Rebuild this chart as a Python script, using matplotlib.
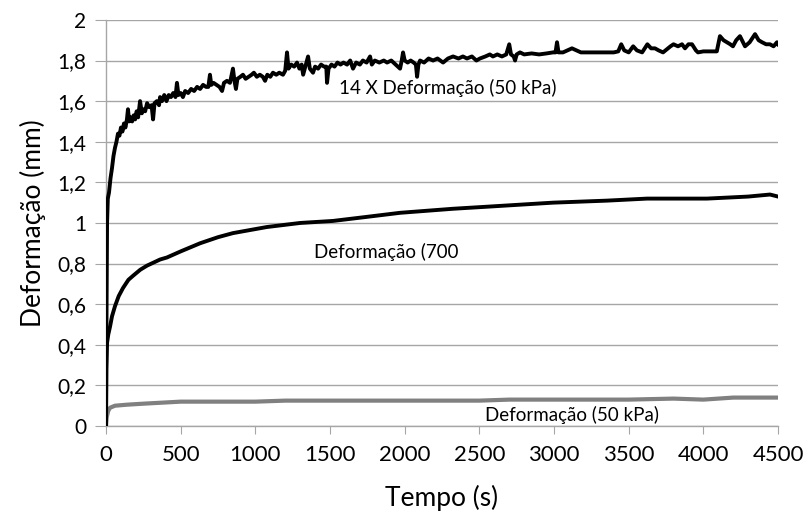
import matplotlib
matplotlib.use("Agg")
import matplotlib.pyplot as plt
from matplotlib.ticker import FuncFormatter

plt.rcParams['font.family'] = ['Lato', 'DejaVu Sans']

# 14 X Deformação (50 kPa) - curva superior, com ruído
t_14x = [0, 3, 7, 12, 20, 30, 40, 50, 60, 70, 80, 90, 100, 110, 120, 130, 140, 147, 155,
         165, 175, 185, 195, 205, 215, 228, 240, 250, 262, 275, 290, 305, 315, 325, 340,
         355, 362, 375, 390, 405, 420, 435, 450, 465, 475, 485, 500, 515, 530, 550, 570,
         590, 610, 630, 650, 670, 685, 696, 705, 720, 740, 760, 777, 790, 810, 830, 850,
         860, 870, 880, 900, 917, 935, 955, 975, 990, 1010, 1030, 1050, 1065, 1080, 1100,
         1118, 1140, 1160, 1185, 1200, 1212, 1222, 1240, 1260, 1279, 1295, 1310, 1320,
         1335, 1353, 1365, 1386, 1400, 1420, 1440, 1460, 1475, 1480, 1490, 1510, 1530,
         1550, 1570, 1590, 1614, 1635, 1654, 1675, 1700, 1720, 1745, 1768, 1780, 1800,
         1830, 1860, 1882, 1910, 1940, 1969, 1980, 1989, 2000, 2020, 2040, 2060, 2075,
         2083, 2092, 2103, 2130, 2160, 2190, 2220, 2257, 2290, 2324, 2360, 2390, 2417,
         2450, 2480, 2504, 2540, 2570, 2591, 2620, 2651, 2680, 2700, 2712, 2730, 2739,
         2750, 2772, 2800, 2850, 2900, 2950, 2993, 3010, 3020, 3030, 3060, 3120, 3180,
         3250, 3300, 3350, 3400, 3430, 3450, 3470, 3500, 3530, 3555, 3590, 3625, 3650,
         3676, 3700, 3730, 3780, 3800, 3830, 3857, 3877, 3900, 3924, 3950, 3964, 4000,
         4050, 4090, 4111, 4135, 4158, 4180, 4198, 4220, 4245, 4265, 4279, 4310, 4346,
         4370, 4393, 4420, 4446, 4470, 4493, 4500]
d_14x = [0.0, 0.5, 1.0, 1.12, 1.15, 1.22, 1.27, 1.33, 1.37, 1.40, 1.44, 1.43, 1.47, 1.45,
         1.49, 1.47, 1.51, 1.56, 1.50, 1.52, 1.50, 1.53, 1.51, 1.55, 1.52, 1.60, 1.54,
         1.56, 1.55, 1.59, 1.57, 1.58, 1.51, 1.59, 1.60, 1.58, 1.62, 1.60, 1.63, 1.60,
         1.63, 1.62, 1.64, 1.62, 1.69, 1.63, 1.64, 1.62, 1.65, 1.64, 1.66, 1.65, 1.67,
         1.66, 1.68, 1.67, 1.67, 1.73, 1.68, 1.69, 1.68, 1.67, 1.65, 1.69, 1.70, 1.69,
         1.76, 1.70, 1.66, 1.71, 1.72, 1.73, 1.71, 1.72, 1.73, 1.74, 1.72, 1.73, 1.72,
         1.70, 1.73, 1.72, 1.74, 1.73, 1.74, 1.73, 1.75, 1.84, 1.76, 1.78, 1.77, 1.79,
         1.76, 1.78, 1.73, 1.77, 1.82, 1.76, 1.74, 1.77, 1.76, 1.78, 1.77, 1.77, 1.69,
         1.76, 1.78, 1.77, 1.79, 1.78, 1.79, 1.78, 1.80, 1.76, 1.79, 1.78, 1.80, 1.79,
         1.82, 1.78, 1.80, 1.79, 1.80, 1.79, 1.80, 1.78, 1.76, 1.80, 1.84, 1.80, 1.79,
         1.80, 1.79, 1.78, 1.72, 1.78, 1.80, 1.79, 1.81, 1.80, 1.81, 1.79, 1.81, 1.82,
         1.81, 1.82, 1.81, 1.82, 1.80, 1.81, 1.82, 1.83, 1.82, 1.83, 1.82, 1.83, 1.88,
         1.83, 1.82, 1.80, 1.83, 1.84, 1.83, 1.835, 1.83, 1.835, 1.84, 1.84, 1.89, 1.84,
         1.84, 1.86, 1.84, 1.84, 1.84, 1.84, 1.84, 1.845, 1.88, 1.85, 1.84, 1.87, 1.85,
         1.84, 1.88, 1.86, 1.86, 1.85, 1.84, 1.87, 1.88, 1.87, 1.88, 1.86, 1.88, 1.88,
         1.85, 1.84, 1.845, 1.845, 1.845, 1.92, 1.90, 1.89, 1.88, 1.87, 1.90, 1.92, 1.89,
         1.87, 1.89, 1.93, 1.90, 1.89, 1.88, 1.88, 1.87, 1.89, 1.88]

# Deformação (700 kPa)
t_700 = [0, 2, 7, 15, 27, 40, 60, 85, 114, 150, 181, 230, 275, 362, 408, 500, 630, 750,
         850, 1077, 1300, 1520, 1746, 1969, 2325, 2550, 2993, 3355, 3623, 4024, 4300,
         4446, 4500]
d_700 = [0.0, 0.28, 0.41, 0.45, 0.49, 0.54, 0.59, 0.64, 0.68, 0.72, 0.74, 0.77, 0.79,
         0.82, 0.83, 0.86, 0.90, 0.93, 0.95, 0.98, 1.0, 1.01, 1.03, 1.05, 1.07, 1.08,
         1.10, 1.11, 1.12, 1.12, 1.13, 1.14, 1.13]

# Deformação (50 kPa)
t_50 = [0, 5, 15, 27, 60, 140, 250, 500, 1000, 1200, 1500, 2000, 2500, 2700, 3000,
        3500, 3800, 4000, 4200, 4500]
d_50 = [0.0, 0.045, 0.075, 0.09, 0.10, 0.105, 0.11, 0.12, 0.12, 0.125, 0.125, 0.125,
        0.125, 0.13, 0.13, 0.13, 0.135, 0.13, 0.14, 0.14]

x_ticks = [0, 500, 1000, 1500, 2000, 2500, 3000, 3500, 4000, 4500]
y_ticks = [0, 0.2, 0.4, 0.6, 0.8, 1.0, 1.2, 1.4, 1.6, 1.8, 2.0]

fig = plt.figure(figsize=(8.05, 5.24), dpi=100)
ax = fig.add_axes([0.1317, 0.187, 0.8348, 0.775])

ax.plot(t_50, d_50, color="#808080", linewidth=3, solid_joinstyle="round", zorder=3)
ax.plot(t_700, d_700, color="black", linewidth=2.8, solid_joinstyle="round", zorder=4)
ax.plot(t_14x, d_14x, color="black", linewidth=2.8, solid_joinstyle="round", zorder=5)

ax.set_xlim(0, 4500)
ax.set_ylim(0, 2)
ax.set_xticks(x_ticks)
ax.set_yticks(y_ticks)
ax.yaxis.set_major_formatter(FuncFormatter(lambda v, p: ("%g" % round(v, 1)).replace(".", ",")))

ax.grid(axis="y", color="#a6a6a6", linewidth=1)
ax.set_axisbelow(True)
for s in ["top", "right"]:
    ax.spines[s].set_visible(False)
for s in ["left", "bottom"]:
    ax.spines[s].set_color("#a6a6a6")
    ax.spines[s].set_linewidth(1)
ax.tick_params(axis="y", length=8, color="#a6a6a6", labelsize=15, pad=6)
ax.tick_params(axis="x", length=6, color="#a6a6a6", labelsize=16, pad=8)

ax.set_xlabel("Tempo (s)", fontsize=19, labelpad=14)
ax.set_ylabel("Deformação (mm)", fontsize=19, labelpad=8)

ax.text(2290, 1.665, "14 X Deformação (50 kPa)", fontsize=13.5, ha="center", va="center")
ax.text(1875, 0.857, "Deformação (700", fontsize=13.5, ha="center", va="center")
ax.text(3120, 0.054, "Deformação (50 kPa)", fontsize=13.5, ha="center", va="center")

fig.savefig("out.png", dpi=100)
